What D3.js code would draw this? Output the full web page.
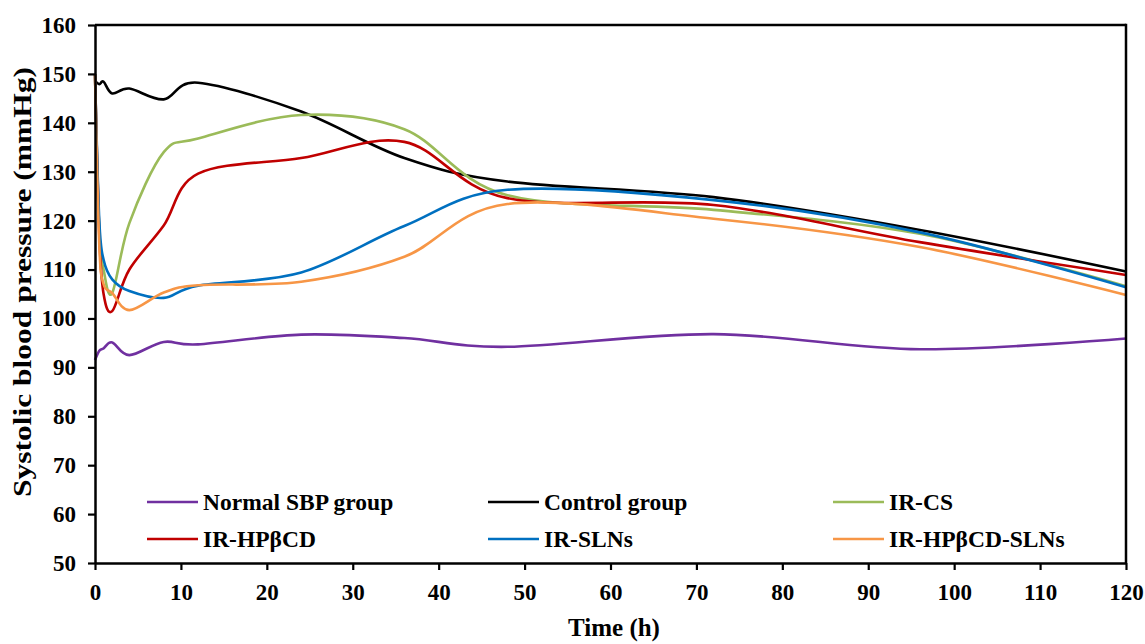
<!DOCTYPE html>
<html><head><meta charset="utf-8">
<script src="https://cdn.jsdelivr.net/npm/d3@7"></script>
<style>html,body{margin:0;padding:0;background:#fff;}svg{display:block;}</style>
</head><body>
<svg id="chart" width="1145" height="644"></svg>
<script>
const times = [0, 0.5, 1, 2, 4, 8, 12, 24, 36, 48, 72, 96, 120];
const normalSBP = [91.5, 93.4, 93.9, 95.1, 92.5, 95.2, 94.7, 96.7, 96.0, 94.2, 96.8, 93.7, 95.9];
const controlGroup = [148.6, 147.9, 148.4, 146.0, 147.0, 144.8, 148.2, 142.3, 132.8, 128.0, 124.8, 118.1, 109.6];
const irCS = [150, 118, 110, 105.2, 119.5, 134.0, 136.8, 141.6, 138.7, 125.2, 122.2, 117.3, 106.6];
const irHPbCD = [150, 117, 105, 101.5, 110, 119, 129.6, 132.8, 136.1, 124.6, 123.2, 115.6, 108.9];
const irSLNs = [150, 120, 112, 108, 105.6, 104.2, 106.7, 109.4, 118.9, 126.3, 124.2, 117.6, 106.4];
const irHPbCDSLNs = [150, 115, 107, 105.2, 101.7, 105.3, 106.8, 107.5, 112.6, 123.4, 120.4, 114.6, 104.8];
const seriesNames = ["Normal SBP group", "Control group", "IR-CS", "IR-HPβCD", "IR-SLNs", "IR-HPβCD-SLNs"];
const seriesColors = ["#7030A0", "#000000", "#9BBB59", "#C00000", "#0070C0", "#F79646"];
const xTicks = [0, 10, 20, 30, 40, 50, 60, 70, 80, 90, 100, 110, 120];
const yTicks = [50, 60, 70, 80, 90, 100, 110, 120, 130, 140, 150, 160];
const xTitle = "Time (h)";
const yTitle = "Systolic blood pressure (mmHg)";

const seriesValues = [normalSBP, controlGroup, irCS, irHPbCD, irSLNs, irHPbCDSLNs];

const svg = d3.select("#chart");
const L = 95, R = 1126, T = 25, B = 563;
const x = d3.scaleLinear().domain([0, 120]).range([L, R]);
const y = d3.scaleLinear().domain([50, 160]).range([B, T]);
const font = "'Liberation Serif','Times New Roman',serif";

// lines
const line = d3.line().x(d => x(d[0])).y(d => y(d[1])).curve(d3.curveCardinal.tension(0));
const gLines = svg.append("g");
seriesValues.forEach((vals, i) => {
  gLines.append("path")
    .datum(times.map((t, j) => [t, vals[j]]))
    .attr("d", line)
    .attr("fill", "none")
    .attr("stroke", seriesColors[i])
    .attr("stroke-width", 2.6)
    .attr("stroke-linejoin", "round");
});

// box (top & right)
svg.append("line").attr("x1", L).attr("x2", R).attr("y1", T).attr("y2", T).attr("stroke", "#000").attr("stroke-width", 2.5);
svg.append("line").attr("x1", R).attr("x2", R).attr("y1", T - 1.2).attr("y2", B).attr("stroke", "#000").attr("stroke-width", 2.5);

// axes
const xAxis = svg.append("g").attr("transform", `translate(0,${B})`)
  .call(d3.axisBottom(x).tickValues(xTicks).tickSize(7).tickSizeOuter(0).tickPadding(14));
const yAxis = svg.append("g").attr("transform", `translate(${L},0)`)
  .call(d3.axisLeft(y).tickValues(yTicks).tickSize(7).tickSizeOuter(0).tickPadding(12));
[xAxis, yAxis].forEach(g => {
  g.select(".domain").attr("stroke", "#000").attr("stroke-width", 2.5);
  g.selectAll(".tick line").attr("stroke", "#000").attr("stroke-width", 2.2);
  g.selectAll(".tick text").attr("fill", "#000").style("font-family", font)
    .style("font-size", "23px").style("font-weight", "bold");
});

// titles
svg.append("text").attr("x", 614).attr("y", 636).attr("text-anchor", "middle")
  .style("font-family", font).style("font-size", "25px").style("font-weight", "bold").text(xTitle);
svg.append("text").attr("transform", `translate(31,282) rotate(-90)`).attr("text-anchor", "middle")
  .attr("textLength", 430).attr("lengthAdjust", "spacingAndGlyphs")
  .style("font-family", font).style("font-size", "26px").style("font-weight", "bold").text(yTitle);

// legend
const legX = [147, 488, 833];
const legY = [502, 539];
seriesNames.forEach((name, i) => {
  const cx = legX[i % 3], cy = legY[Math.floor(i / 3)];
  svg.append("line").attr("x1", cx).attr("x2", cx + 51).attr("y1", cy).attr("y2", cy)
    .attr("stroke", seriesColors[i]).attr("stroke-width", 2.6);
  svg.append("text").attr("x", cx + 56).attr("y", cy + 8)
    .style("font-family", font).style("font-size", "23.5px").style("font-weight", "bold").text(name);
});
</script>
</body></html>
